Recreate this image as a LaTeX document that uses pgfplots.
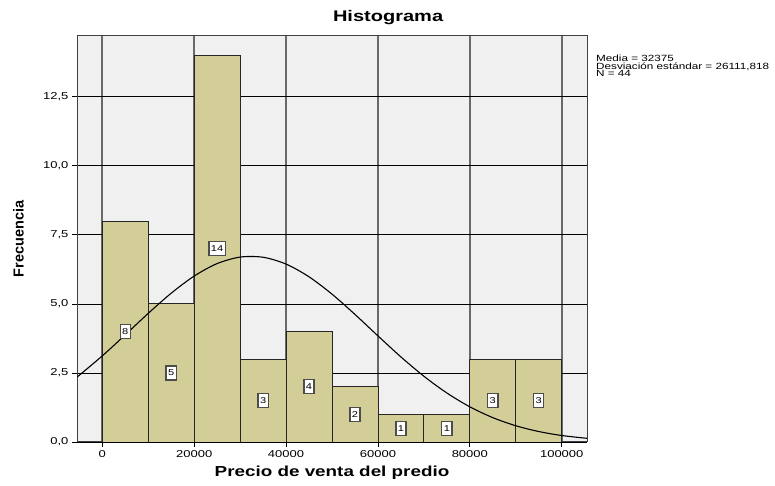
\documentclass[border=0pt]{standalone}
\usepackage{fontspec}
\setmainfont{Liberation Sans}[FakeStretch=1.3]
\newfontfamily\narrowfont{Liberation Sans}
\usepackage{pgfplots}
\pgfplotsset{compat=1.18}
\definecolor{barfill}{RGB}{211,206,152}
\definecolor{plotbg}{RGB}{240,240,240}
\definecolor{vgrid}{RGB}{105,105,105}
\newcommand\statsfont{\fontsize{9}{7.5}\selectfont\lineskiplimit=-20pt\relax}
\begin{document}
\begin{tikzpicture}
\begin{axis}[
  scale only axis, width=510pt, height=406pt,
  xmin=-5500, xmax=105500, ymin=0, ymax=14.7,
  axis background/.style={fill=plotbg},
  xtick={0,20000,40000,60000,80000,100000},
  ytick={0,2.5,5,7.5,10,12.5},
  scaled x ticks=false,
  tick align=outside, tick pos=left, major tick length=5pt,
  tick style={black, line width=0.8pt},
  xmajorgrids, ymajorgrids,
  x grid style={vgrid, line width=1.9pt},
  y grid style={black, line width=0.8pt},
  axis line style={black!75, line width=1pt},
  /pgf/number format/assume math mode=true,
  xticklabel style={font=\fontsize{10}{12}\selectfont, /pgf/number format/.cd, fixed, precision=0, 1000 sep={}},
  yticklabel style={font=\fontsize{10}{12}\selectfont, /pgf/number format/.cd, fixed, fixed zerofill, precision=1, use comma},
  title={Histograma},
  title style={at={(axis description cs:0.61,1.0197)}, anchor=base, font=\bfseries\fontsize{15.4}{18}\selectfont},
  xlabel={Precio de venta del predio},
  xlabel style={at={(axis description cs:0.5,-0.0862)}, anchor=base, font=\bfseries\fontsize{14.5}{17}\selectfont},
  ylabel={Frecuencia},
  ylabel style={at={(axis description cs:-0.1147,0.5)}, anchor=center, font=\narrowfont\bfseries\fontsize{14.5}{17}\selectfont},
]
\addplot[ybar interval, fill=barfill, draw=black!85, line width=0.9pt] coordinates {
(0,8) (10000,5) (20000,14) (30000,3) (40000,4) (50000,2) (60000,1) (70000,1) (80000,3) (90000,3) (100000,3)
};
\addplot[smooth, black, line width=1.1pt, mark=none] coordinates {
(-5500,2.348) (0,3.117) (5000,3.880) (10000,4.657) (15000,5.387) (20000,6.008) (25000,6.460) (30000,6.695) (35000,6.689) (40000,6.442) (45000,5.981) (50000,5.353) (55000,4.619) (60000,3.842) (65000,3.080) (70000,2.381) (75000,1.774) (80000,1.274) (85000,0.882) (90000,0.589) (95000,0.379) (100000,0.235) (105500,0.133)
};
\addplot[draw=none, mark=none, nodes near coords, point meta=explicit symbolic,
  every node near coord/.style={anchor=center, fill=white, draw=black!70, line width=1.3pt, inner xsep=2pt, inner ysep=0pt, minimum height=14pt, font=\fontsize{8.5}{10}\selectfont}]
table[meta=lab] {
x y lab
5000 4 8
15000 2.5 5
25000 7 14
35000 1.5 3
45000 2 4
55000 1 2
65000 0.5 1
75000 0.5 1
85000 1.5 3
95000 1.5 3
};
\end{axis}
\node[anchor=north west, inner sep=0, align=left, font=\statsfont] at (519pt,387pt) {Media = 32375\\Desviación estándar = 26111,818\\N = 44};
\pgfresetboundingbox
\path[use as bounding box] (-77pt,-44pt) rectangle (698pt,442pt);
\end{tikzpicture}
\end{document}
